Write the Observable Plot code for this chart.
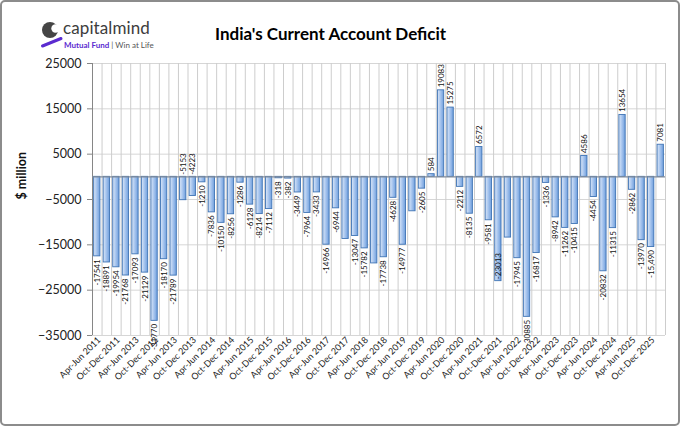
<!DOCTYPE html>
<html>
<head>
<meta charset="utf-8">
<script src="https://cdn.jsdelivr.net/npm/d3@7"></script>
<script src="https://cdn.jsdelivr.net/npm/@observablehq/plot@0.6"></script>
<style>
  body { margin: 0; background: #fff; }
  #wrap { position: relative; width: 680px; height: 426px; overflow: hidden; font-family: Lato, "Open Sans", sans-serif; background: #fff; }
  #chart { position: absolute; left: 0; top: 0; }
  #border { position: absolute; left: 0; top: 0; width: 680px; height: 426px; box-sizing: border-box; border: 2px solid #8c8c8c; border-radius: 5px; pointer-events: none; }
  #title { position: absolute; left: 215px; top: 23px; font-size: 17px; line-height: 22px; font-weight: 700; color: #000; white-space: nowrap; }
  #logo { position: absolute; left: 40px; top: 21px; }
  #brand { position: absolute; left: 63px; top: 19px; font-size: 17px; line-height: 17px; color: #3d3d3d; white-space: nowrap; letter-spacing: 0.1px; }
  #tag { position: absolute; left: 64px; top: 40.5px; font-size: 8px; line-height: 9px; color: #555; white-space: nowrap; }
  #tag b { color: #5b2bd0; }
</style>
</head>
<body>
<div id="wrap">
  <div id="chart"></div>
  <svg id="logo" width="24" height="28" viewBox="0 0 24 28">
    <circle cx="10" cy="9" r="8" fill="#454545"></circle>
    <circle cx="15.5" cy="7.5" r="4.2" fill="#fff"></circle>
    <line x1="2.5" y1="25" x2="21" y2="17.5" stroke="#5b2bd0" stroke-width="3" stroke-linecap="round"></line>
  </svg>
  <div id="brand">capitalmind</div>
  <div id="tag"><b>Mutual Fund</b> | Win at Life</div>
  <div id="title">India's Current Account Deficit</div>
  <div id="border"></div>
</div>
<script>
// Quarterly current account balance, $ million (Apr-Jun 2011 onwards)
const values = [
  -17541, -18891, -19954, -21768, -17093, -21129, -31770, -18170, -21789, -5153,
  -4223, -1210, -7836, -10150, -8256, -1286, -6128, -8214, -7112, -318,
  -382, -3449, -7964, -3433, -14966, -6944, -13700, -13047, -15782, -19100,
  -17738, -4628, -14977, -7600, -2605, 584, 19083, 15275, -2212, -8135,
  6572, -9581, -23013, -13400, -17945, -30885, -16817, -1336, -8942, -11262,
  -10415, 4586, -4454, -20832, -11315, 13654, -2862, -13970, -15490, 7081
];
// Data labels as printed (null = no label shown)
const labels = [
  "-17541", "-18891", "-19954", "-21768", "-17093", "-21129", "-31770", "-18170", "-21789", "-5153",
  "-4223", "-1210", "-7836", "-10150", "-8256", "-1286", "-6128", "-8214", "-7112", "-318",
  "-382", "-3449", "-7964", "-3433", "-14966", "-6944", null, "-13047", "-15782", null,
  "-17738", "-4628", "-14977", null, "-2605", "584", "19083", "15275", "-2212", "-8135",
  "6572", "-9581", "-23013", null, "-17945", "-30885", "-16817", "-1336", "-8942", "-11262",
  "-10415", "4586", "-4454", "-20832", "-11315", "13654", "-2862", "-13970", "-15,490", "7081"
];
// Category axis labels (every other quarter)
const tickLabels = [
  "Apr-Jun 2011", "Oct-Dec 2011", "Apr-Jun 2013", "Oct-Dec 2012", "Apr-Jun 2013", "Oct-Dec 2013",
  "Apr-Jun 2014", "Oct-Dec 2014", "Apr-Jun 2015", "Oct-Dec 2015", "Apr-Jun 2016", "Oct-Dec 2016",
  "Apr-Jun 2017", "Oct-Dec 2017", "Apr-Jun 2018", "Oct-Dec 2018", "Apr-Jun 2019", "Oct-Dec 2019",
  "Apr-Jun 2020", "Oct-Dec 2020", "Apr-Jun 2021", "Oct-Dec 2021", "Apr-Jun 2022", "Oct-Dec 2022",
  "Apr-Jun 2023", "Oct-Dec 2023", "Apr-Jun 2024", "Oct-Dec 2024", "Apr-Jun 2025", "Oct-Dec 2025"
];
const yTicks = [25000, 15000, 5000, -5000, -15000, -25000, -35000];
const yLabel = "$ million";

const data = values.map((v, i) => ({i, v, label: labels[i]}));
const n = values.length;
const aboveAxis = new Set([9, 10]);   // labels moved above the axis in the original
const insideEnd = new Set([42]);      // label drawn inside the bar end

const labelled = data.filter(d => d.label != null);
const negLabels = labelled.filter(d => d.v < 0 && !aboveAxis.has(d.i) && !insideEnd.has(d.i));
const posLabels = labelled.filter(d => d.v >= 0);
const upLabels = labelled.filter(d => aboveAxis.has(d.i));
const inLabels = labelled.filter(d => insideEnd.has(d.i));

const lblStyle = {fontSize: 8, fill: "#111", rotate: -90};

const chart = Plot.plot({
  width: 680,
  height: 426,
  marginLeft: 92,
  marginRight: 15,
  marginTop: 63,
  marginBottom: 91,
  style: {fontFamily: "Lato, 'Open Sans', sans-serif", background: "transparent", color: "#222"},
  x: {domain: [-0.5, n - 0.5], axis: null},
  y: {domain: [-35000, 25000], axis: null},
  marks: [
    Plot.ruleY(yTicks, {stroke: "#d6d6d6", strokeWidth: 1}),
    Plot.ruleX(d3.range(-0.5, n, 1), {stroke: "#cdcdcd", strokeWidth: 1}),
    Plot.ruleX([-0.5], {stroke: "#868686", strokeWidth: 1}),
    Plot.rectY(data, {
      x1: d => d.i - 0.33, x2: d => d.i + 0.33, y1: 0, y2: "v",
      fill: "url(#barGrad)", stroke: "#3f74b5", strokeWidth: 0.9
    }),
    Plot.ruleY([0], {stroke: "#7f8a99", strokeWidth: 1.3}),
    Plot.axisY(yTicks, {
      tickSize: 5, tickPadding: 6, tickFormat: d3.format("d"),
      fontSize: 12.5, stroke: "#868686", fill: "#222", label: null
    }),
    Plot.text([yLabel], {frameAnchor: "left", dx: -71, rotate: -90, fontWeight: "bold", fontSize: 12.5, fill: "#111"}),
    Plot.text(tickLabels, {
      x: (d, j) => j * 2, frameAnchor: "bottom", text: d => d,
      rotate: -45, textAnchor: "end", dx: 4, dy: 5, fontSize: 9, fill: "#222"
    }),
    Plot.text(negLabels, {x: "i", y: "v", text: "label", textAnchor: "end", dy: 3, ...lblStyle}),
    Plot.text(posLabels, {x: "i", y: "v", text: "label", textAnchor: "start", dy: -3, ...lblStyle}),
    Plot.text(upLabels, {x: "i", y: 0, text: "label", textAnchor: "start", dy: -2, ...lblStyle}),
    Plot.text(inLabels, {x: "i", y: "v", text: "label", textAnchor: "start", dy: -2, ...lblStyle})
  ]
});

const defs = d3.select(chart).insert("defs", ":first-child");
const grad = defs.append("linearGradient")
  .attr("id", "barGrad").attr("x1", "0").attr("x2", "1").attr("y1", "0").attr("y2", "0");
grad.append("stop").attr("offset", "0").attr("stop-color", "#dbe7f8");
grad.append("stop").attr("offset", "0.45").attr("stop-color", "#aac7ef");
grad.append("stop").attr("offset", "1").attr("stop-color", "#6f9edc");

document.getElementById("chart").appendChild(chart);
</script>
</body>
</html>
